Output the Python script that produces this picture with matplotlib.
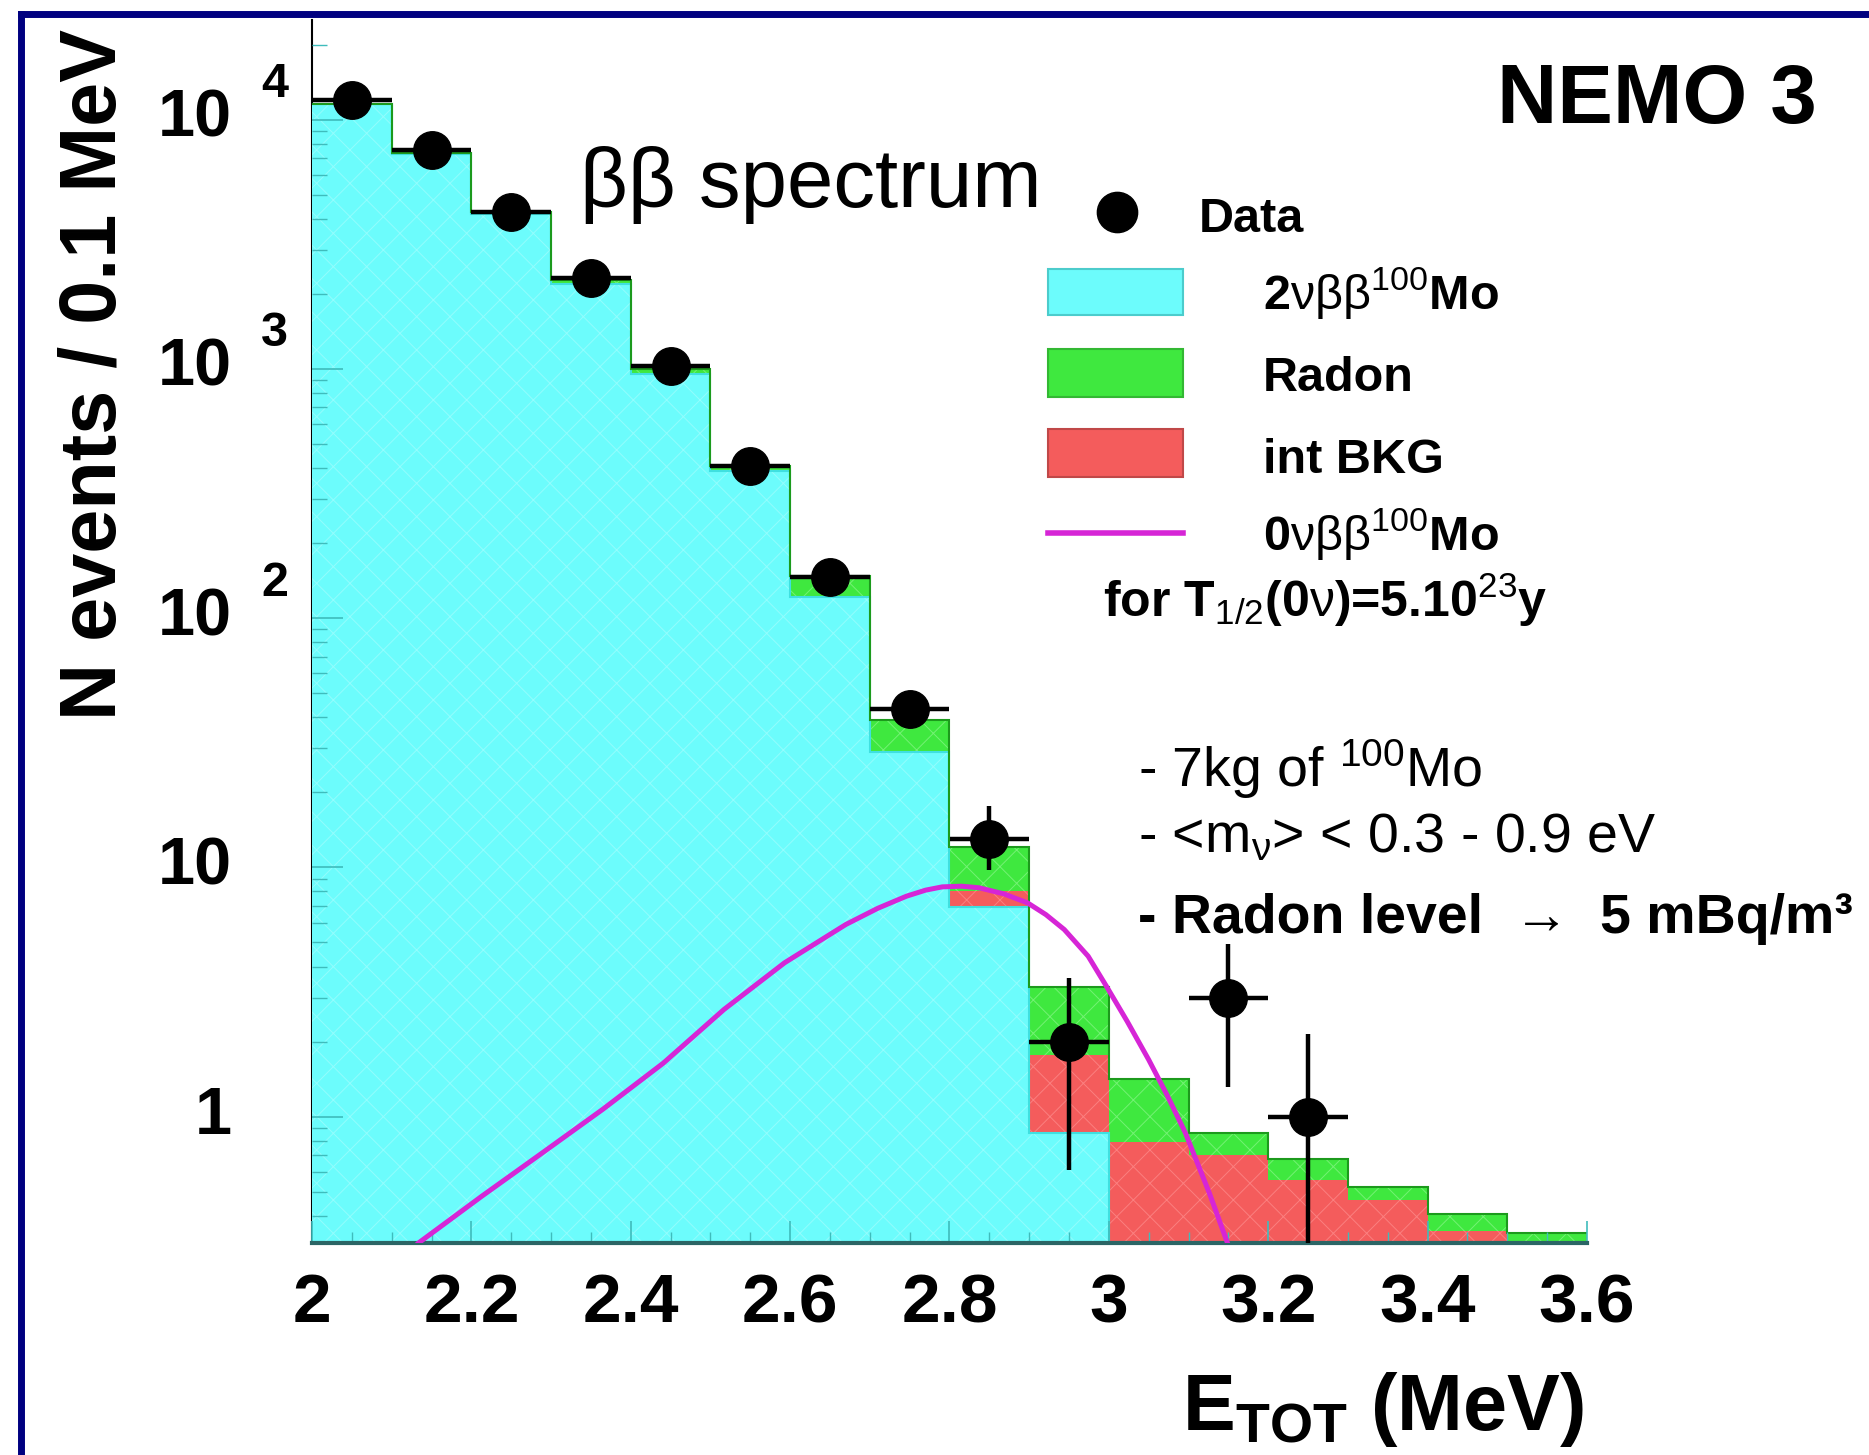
import numpy as np
import matplotlib
matplotlib.use("Agg")
import matplotlib.pyplot as plt
from matplotlib.lines import Line2D
from matplotlib.patches import Rectangle
from matplotlib.transforms import blended_transform_factory, offset_copy

plt.rcParams['font.family'] = ['Liberation Sans', 'DejaVu Sans']
plt.rcParams['mathtext.fontset'] = 'custom'
plt.rcParams['mathtext.rm'] = 'Liberation Sans'
plt.rcParams['mathtext.bf'] = 'Liberation Sans:bold'
plt.rcParams['mathtext.it'] = 'Liberation Sans:italic'
plt.rcParams['mathtext.default'] = 'regular'
plt.rcParams['hatch.linewidth'] = 0.7

# 0.1 MeV bins from 2.0 to 3.6 MeV
edges = np.round(np.arange(2.0, 3.61, 0.1), 2)
two_nu = [11500, 7300, 4200, 2180, 950, 390, 122, 29, 6.95, 0.86, 0, 0, 0, 0, 0, 0]
int_bkg = [0, 0, 0, 0, 0, 0, 0, 0, 1.05, 0.91, 0.79, 0.70, 0.557, 0.46, 0.345, 0.30]
radon = [30, 30, 40, 90, 45, 16, 25, 10, 4.1, 1.54, 0.62, 0.16, 0.12, 0.06, 0.06, 0.04]

data_x = [2.05, 2.15, 2.25, 2.35, 2.45, 2.55, 2.65, 2.75, 2.85, 2.95, 3.15, 3.25]
data_y = [12000, 7520, 4270, 2320, 1030, 406, 146, 43, 13, 2, 3, 1]
err_lo = [110, 87, 65, 48, 32, 20, 12, 6.6, 3.2, 1.39, 1.68, 0.99]
err_hi = [110, 87, 65, 48, 32, 20, 12, 6.6, 4.6, 1.6, 1.94, 1.14]

# 0vbb 100Mo curve for T1/2 = 5e23 y
onu_x = [2.12, 2.133, 2.213, 2.289, 2.365, 2.441, 2.517, 2.593, 2.67, 2.71, 2.746, 2.77,
         2.791, 2.815, 2.837, 2.868, 2.898, 2.921, 2.944, 2.974, 2.997, 3.023, 3.05,
         3.073, 3.096, 3.126, 3.149, 3.16]
onu_y = [0.28, 0.31, 0.479, 0.715, 1.07, 1.64, 2.69, 4.14, 5.9, 6.85, 7.66, 8.1,
         8.35, 8.4, 8.28, 7.83, 7.2, 6.46, 5.63, 4.4, 3.33, 2.41, 1.69,
         1.22, 0.86, 0.494, 0.31, 0.25]

xticks = [2.0, 2.2, 2.4, 2.6, 2.8, 3.0, 3.2, 3.4, 3.6]
xtick_labels = ['2', '2.2', '2.4', '2.6', '2.8', '3', '3.2', '3.4', '3.6']
ytick_exp = [0, 1, 2, 3, 4]

cyan = '#6cfcfc'
green = '#3fe83f'
red = '#f45c5c'
magenta = '#d625d6'

W, H = 1869, 1455
fig = plt.figure(figsize=(W / 100, H / 100), dpi=100)
ax = fig.add_axes([312 / W, 1 - 1243 / H, (1587 - 312) / W, (1243 - 20) / H])
ax.set_yscale('log')
ax.set_xlim(2.0, 3.6)
ax.set_ylim(0.311, 25100)

floor = 1e-3
c1 = np.maximum(np.array(two_nu, float), floor)
c2 = c1 + np.array(int_bkg)
c3 = c2 + np.array(radon)

ax.stairs(c1, edges, baseline=floor, fill=True, facecolor=cyan, edgecolor='#93fdfd',
          hatch='x', linewidth=0, zorder=1)
ax.stairs(c2, edges, baseline=c1, fill=True, facecolor=red, edgecolor='#fb8080',
          hatch='x', linewidth=0, zorder=1)
ax.stairs(c3, edges, baseline=c2, fill=True, facecolor=green, edgecolor='#74f274',
          hatch='x', linewidth=0, zorder=1)
ax.stairs(c1, edges, baseline=None, color='#3fe0e0', lw=1.5, zorder=1.2)
ax.stairs(c3, edges, baseline=None, color='#1c9a1c', lw=1.5, zorder=1.2)

ax.plot(onu_x, onu_y, color=magenta, lw=3.6, zorder=3, solid_capstyle='butt')

ax.errorbar(data_x, data_y, xerr=0.05, yerr=[err_lo, err_hi], fmt='o', color='black',
            ms=27, elinewidth=3.2, capsize=0, zorder=4)

for s in ['top', 'right']:
    ax.spines[s].set_visible(False)
ax.spines['left'].set_zorder(0.5)
ax.spines['left'].set_linewidth(1.5)
ax.spines['bottom'].set_color('#2b6565')
ax.spines['bottom'].set_linewidth(3)
ax.spines['bottom'].set_zorder(2)

ax.set_xticks(xticks)
ax.set_xticklabels(xtick_labels)
ax.set_xticks(np.round(np.arange(2.0, 3.61, 0.05), 2), minor=True)
ax.tick_params(axis='x', which='both', direction='in', colors='#3fbcbc', labelcolor='black',
               labelsize=50, pad=21)
ax.tick_params(axis='x', which='major', length=16, width=1.2)
ax.tick_params(axis='x', which='minor', length=8, width=1.0)
for lab in ax.get_xticklabels():
    lab.set_fontweight('bold')

ax.tick_params(axis='y', which='both', direction='in', colors='#3fbcbc', labelleft=False)
ax.tick_params(axis='y', which='major', length=22, width=1.2)
ax.tick_params(axis='y', which='minor', length=11, width=1.0)

# ROOT-style y labels
trans = blended_transform_factory(fig.transFigure, ax.transData)
trans_up = offset_copy(trans, fig=fig, x=0, y=35, units='dots')
for e in ytick_exp:
    v = 10.0 ** e
    base = '1' if e == 0 else '10'
    fig.text(232 / W, v, base, transform=trans, ha='right', va='center',
             fontsize=48, fontweight='bold')
    if e >= 2:
        fig.text(261 / W, v, str(e), transform=trans_up, ha='left', va='center',
                 fontsize=35, fontweight='bold')

fig.text(95 / W, 1 - 374 / H, 'N events / 0.1 MeV', rotation=90, ha='center', va='center',
         fontsize=57, fontweight='bold')
fig.text(1584 / W, 1 - 1430 / H, r'E$_{TOT}$ (MeV)', ha='right', va='baseline',
         fontsize=57, fontweight='bold')

fig.text(1497 / W, 1 - 123 / H, 'NEMO 3', ha='left', va='baseline', fontsize=60,
         fontweight='bold')
fig.text(580 / W, 1 - 207 / H, 'ββ spectrum', ha='left', va='baseline', fontsize=60)

# legend
fig.add_artist(Line2D([1117 / W], [1 - 212 / H], marker='o', ms=29, color='black'))
fig.text(1199 / W, 1 - 232 / H, 'Data', fontsize=35, fontweight='bold', va='baseline')
boxes = [(269, 315, cyan, '#4ccccc'), (349, 397, green, '#33b833'), (429, 477, red, '#c04848')]
for top, bot, fc, ec in boxes:
    fig.add_artist(Rectangle((1048 / W, 1 - bot / H), (1183 - 1048) / W, (bot - top) / H,
                             transform=fig.transFigure, facecolor=fc, edgecolor=ec, lw=1.5))
fig.add_artist(Line2D([1048 / W, 1183 / W], [1 - 533 / H] * 2, color=magenta, lw=4))
leg_txt = [(309, r'2$\mathrm{\nu\beta\beta}^{\mathrm{100}}$Mo'), (391, 'Radon'),
           (473, 'int BKG'), (550, r'0$\mathrm{\nu\beta\beta}^{\mathrm{100}}$Mo')]
for y, t in leg_txt:
    fig.text(1263 / W, 1 - y / H, t, fontsize=35, fontweight='bold', va='baseline')
fig.text(1103 / W, 1 - 617 / H, r'for T$_{\mathrm{1/2}}$(0$\mathrm{\nu}$)=5.10$^{\mathrm{23}}$y',
         fontsize=36, fontweight='bold', va='baseline')

# notes
fig.text(1138 / W, 1 - 787 / H, r'- 7kg of $^{100}$Mo', fontsize=40, va='baseline')
fig.text(1138 / W, 1 - 852 / H, r'- <m$_{\nu}$> < 0.3 - 0.9 eV', fontsize=40, va='baseline')
fig.text(1138 / W, 1 - 933 / H, '- Radon level  →  5 mBq/m³', fontsize=40,
         fontweight='bold', va='baseline')

# slide frame
fig.add_artist(Line2D([20.5 / W, 1.0], [1 - 13.5 / H] * 2, color='#000080', lw=5,
                      solid_capstyle='projecting'))
fig.add_artist(Line2D([20.5 / W] * 2, [0.0, 1 - 13.5 / H], color='#000080', lw=5,
                      solid_capstyle='projecting'))

fig.savefig('out.png', dpi=100)
